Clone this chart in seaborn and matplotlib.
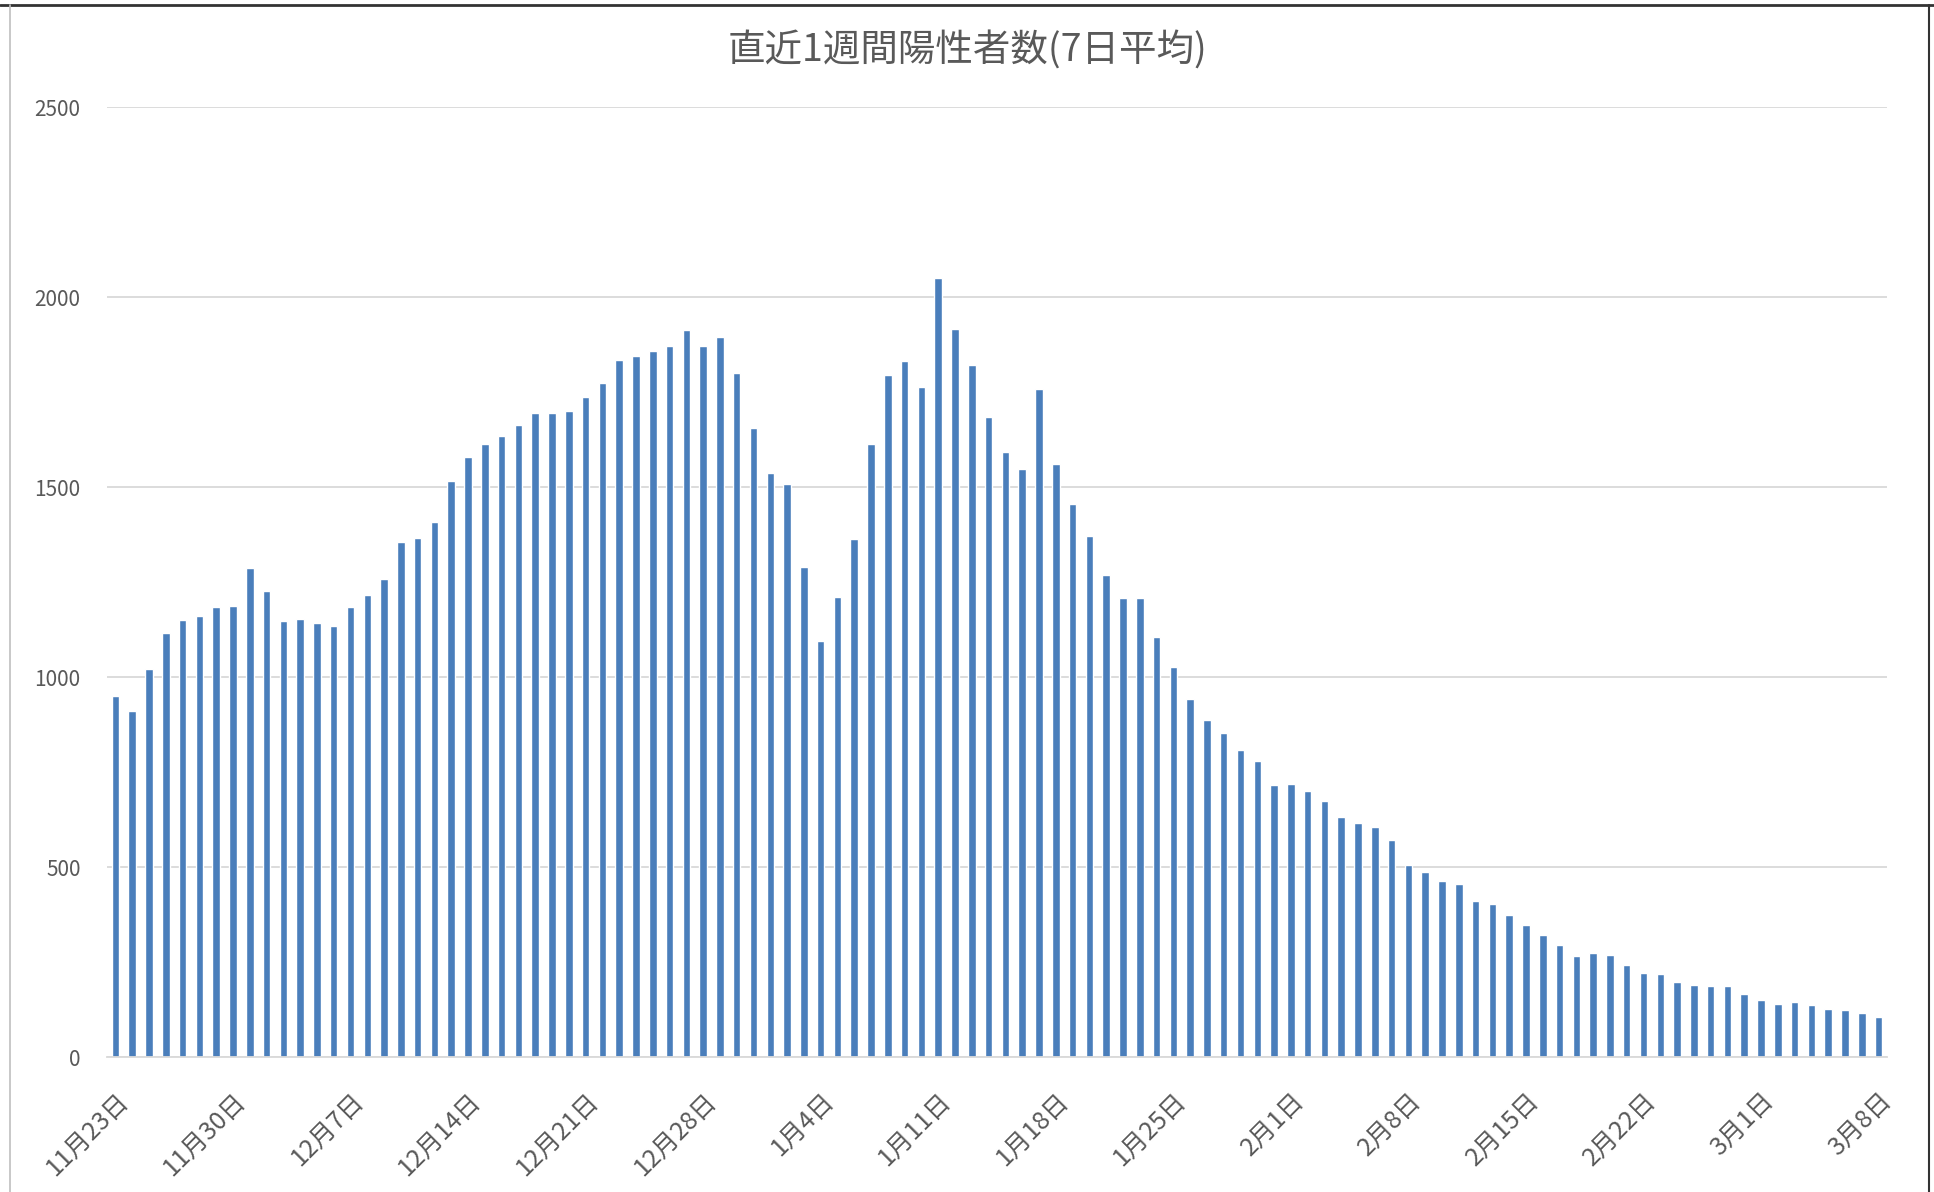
import numpy as np
import pandas as pd
import seaborn as sns
import matplotlib.pyplot as plt
from matplotlib.lines import Line2D

# 7日平均の陽性者数 (11/23 - 3/8)
values = [951, 910, 1020, 1115, 1150, 1161, 1185, 1187, 1288, 1227,
          1148, 1153, 1142, 1134, 1185, 1215, 1259, 1355, 1367, 1407,
          1517, 1580, 1614, 1635, 1664, 1694, 1694, 1701, 1737, 1774,
          1835, 1844, 1859, 1871, 1912, 1871, 1896, 1800, 1654, 1536,
          1509, 1290, 1094, 1211, 1362, 1612, 1794, 1831, 1763, 2051,
          1916, 1822, 1685, 1592, 1547, 1757, 1561, 1455, 1371, 1268,
          1209, 1207, 1104, 1027, 942, 887, 852, 809, 780, 715,
          718, 699, 674, 631, 616, 604, 570, 505, 486, 464,
          454, 410, 402, 375, 347, 320, 295, 265, 273, 269,
          242, 221, 218, 198, 190, 187, 188, 167, 149, 140,
          146, 136, 126, 123, 116, 106]
days = [f"{d.month}月{d.day}日" for d in pd.date_range("2020-11-23", "2021-03-08")]
tick_labels = ["11月23日", "11月30日", "12月7日", "12月14日", "12月21日", "12月28日",
               "1月4日", "1月11日", "1月18日", "1月25日", "2月1日", "2月8日",
               "2月15日", "2月22日", "3月1日", "3月8日"]
yticks = [0, 500, 1000, 1500, 2000, 2500]

sns.set_style("white")
plt.rcParams['font.family'] = ['Noto Sans CJK JP', 'DejaVu Sans']

fig = plt.figure(figsize=(19.34, 11.92), dpi=100)
ax = fig.add_axes([107 / 1934, 1 - 1057 / 1192, 1780 / 1934, 950 / 1192])

df = pd.DataFrame({"日付": days, "陽性者数": values})
sns.barplot(data=df, x="日付", y="陽性者数", color="#4A7EBB", saturation=1,
            width=0.45, ax=ax)

ax.set_xlim(-0.5, len(days) - 0.5)
ax.set_ylim(0, 2500)
ax.set_yticks(yticks)
ax.set_yticklabels([str(v) for v in yticks])
ax.grid(axis='y', color='#d9d9d9', lw=1.3)
ax.set_axisbelow(True)

ax.set_xticks(range(0, len(days), 7))
ax.set_xticklabels(tick_labels, rotation=45, ha='right', va='top',
                   rotation_mode='anchor', fontsize=18, color='#595959')
ax.set_xticks(np.arange(-0.5, len(days) - 1, 7), minor=True)
ax.tick_params(axis='x', which='major', length=0, pad=22)
ax.tick_params(axis='x', which='minor', length=6, width=1.3, color='#d9d9d9')
ax.tick_params(axis='y', length=0, pad=19, labelsize=15, labelcolor='#595959')
ax.set_xlabel('')
ax.set_ylabel('')
for s in ['top', 'right', 'left']:
    ax.spines[s].set_visible(False)
ax.spines['bottom'].set_color('#d9d9d9')
ax.spines['bottom'].set_linewidth(1.3)

fig.text(968 / 1934, 1 - 50 / 1192, "直近1週間陽性者数(7日平均)", ha='center',
         va='center', fontsize=27, color='#595959')

# 枠線
fig.add_artist(Line2D([0, 1], [1 - 5 / 1192] * 2, color='#333333', lw=2))
fig.add_artist(Line2D([10 / 1934] * 2, [0, 1 - 5 / 1192], color='#bfbfbf', lw=1.2))
fig.add_artist(Line2D([1929 / 1934] * 2, [0, 1 - 5 / 1192], color='#333333', lw=1.5))

fig.savefig('out.png', dpi=100, facecolor='white')
